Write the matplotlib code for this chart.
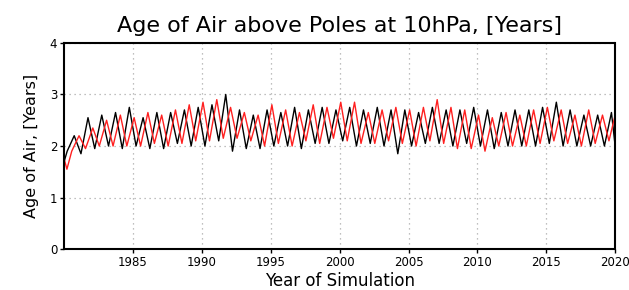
import matplotlib
matplotlib.use("Agg")
import matplotlib.pyplot as plt
import numpy as np

# ---- data ----
years = list(range(1980, 2020))

# black series: yearly troughs (early in year) and peaks (late in year)
black_start = 1.70
black_trough = [1.90, 1.85, 1.95, 2.00, 1.95, 2.00, 1.95, 1.95, 2.05, 2.00,
                2.00, 2.10, 1.90, 1.95, 1.95, 2.00, 2.00, 1.95, 2.05, 2.05,
                2.10, 2.00, 2.05, 2.00, 1.85, 2.00, 2.05, 2.05, 2.00, 2.05,
                2.00, 1.95, 2.00, 2.00, 2.00, 2.05, 2.00, 2.00, 2.00, 2.00]
black_peak = [2.20, 2.55, 2.60, 2.65, 2.75, 2.55, 2.65, 2.65, 2.70, 2.75,
              2.80, 3.00, 2.70, 2.60, 2.70, 2.65, 2.75, 2.70, 2.75, 2.70,
              2.75, 2.70, 2.75, 2.70, 2.70, 2.65, 2.75, 2.70, 2.70, 2.75,
              2.70, 2.65, 2.70, 2.70, 2.75, 2.85, 2.70, 2.60, 2.60, 2.65]
black_end = 2.00

# red series: yearly peaks (start of year) and troughs (mid year)
red_start = 1.75
red_peak = [1.55, 2.20, 2.35, 2.50, 2.60, 2.55, 2.65, 2.60, 2.70, 2.80,
            2.85, 2.90, 2.75, 2.65, 2.60, 2.80, 2.70, 2.65, 2.80, 2.75,
            2.85, 2.85, 2.65, 2.70, 2.75, 2.70, 2.75, 2.90, 2.75, 2.70,
            2.60, 2.55, 2.65, 2.60, 2.70, 2.75, 2.70, 2.60, 2.70, 2.60]
red_trough = [1.90, 1.95, 2.00, 2.00, 2.00, 2.00, 2.05, 2.00, 2.05, 2.10,
              2.10, 2.15, 2.15, 2.10, 2.00, 2.05, 2.00, 2.10, 2.05, 2.15,
              2.10, 2.05, 2.05, 2.10, 2.05, 2.00, 2.10, 2.05, 1.95, 1.95,
              1.90, 2.00, 2.00, 2.00, 2.05, 2.10, 2.05, 2.00, 2.05, 2.10]
red_end = 2.60

xticks = [1985, 1990, 1995, 2000, 2005, 2010, 2015, 2020]
yticks = [0, 1, 2, 3, 4]

# ---- build time series ----
bt, bv = [1980.0], [black_start]
for y, tr, pk in zip(years, black_trough, black_peak):
    bt += [y + 0.22, y + 0.73]
    bv += [tr, pk]
bt.append(2020.0); bv.append(black_end)

rt, rv = [1980.0], [red_start]
for y, pk, tr in zip(years, red_peak, red_trough):
    rt += [y + 0.2 if y == 1980 else y + 0.08, y + 0.55]
    rv += [pk, tr]
rt.append(2020.0); rv.append(red_end)

fig = plt.figure(figsize=(6.29, 2.90), dpi=100)
ax = fig.add_axes([0.102, 0.141, 0.876, 0.711])

ax.plot(bt, bv, color="black", lw=1.0)
ax.plot(rt, rv, color="#ff2020", lw=1.0)

ax.set_xlim(1980, 2020)
ax.set_ylim(0, 4)
ax.set_xticks(xticks)
ax.set_yticks(yticks)
ax.tick_params(labelsize=8.5, length=3, width=1, pad=2)
ax.grid(True, color="#aaaaaa", linestyle=(0, (1, 3)), lw=0.9)

for s in ["left", "right"]:
    ax.spines[s].set_linewidth(1.5)
for s in ["top", "bottom"]:
    ax.spines[s].set_linewidth(1.5)
    ax.spines[s].set_linestyle((0, (4, 1)))

ax.set_title("Age of Air above Poles at 10hPa, [Years]", fontsize=16, pad=8)
ax.set_xlabel("Year of Simulation", fontsize=12, labelpad=2)
ax.set_ylabel("Age of Air, [Years]", fontsize=11.5, labelpad=8)

fig.savefig("out.png", dpi=100)
